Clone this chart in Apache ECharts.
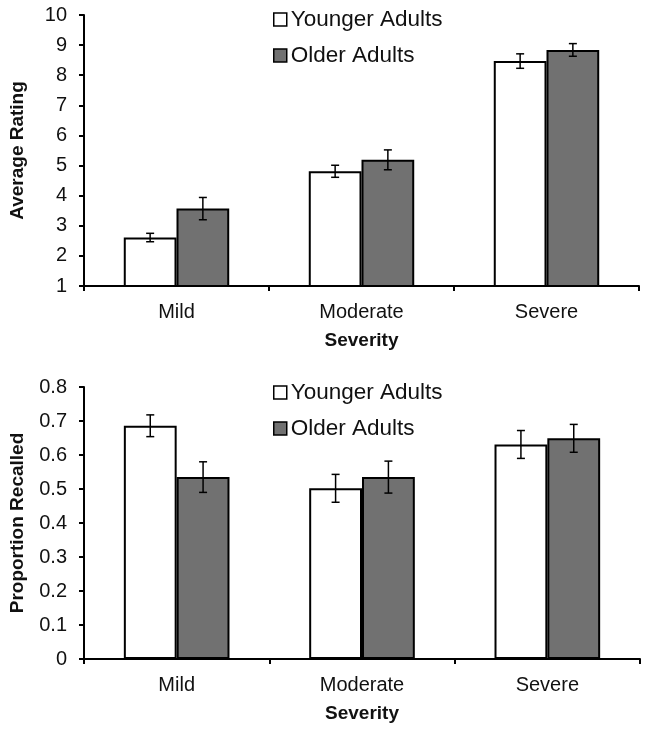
<!DOCTYPE html>
<html>
<head>
<meta charset="utf-8">
<script src="https://cdn.jsdelivr.net/npm/echarts@6/dist/echarts.min.js"></script>
<style>
html,body{margin:0;padding:0;background:#fff;}
#c{width:649px;height:731px;}
</style>
</head>
<body>
<div id="c"></div>
<script>
// ---- Data ----
const categories = ['Mild', 'Moderate', 'Severe'];
const seriesNames = ['Younger Adults', 'Older Adults'];

// Top panel: Average Rating
const ratingYounger = [2.61, 4.81, 8.47];
const ratingYoungerErr = [0.14, 0.20, 0.24];
const ratingOlder = [3.57, 5.19, 8.84];
const ratingOlderErr = [0.37, 0.33, 0.21];

// Bottom panel: Proportion Recalled
const recallYounger = [0.686, 0.502, 0.631];
const recallYoungerErr = [0.032, 0.041, 0.041];
const recallOlder = [0.535, 0.535, 0.649];
const recallOlderErr = [0.045, 0.047, 0.041];

// ---- Styling ----
const FONT = "'Liberation Sans', Arial, sans-serif";
const CAT_GAP = 0.43;
const colors = ['#ffffff', '#717171'];

const chart = echarts.init(document.getElementById('c'), null, {renderer: 'canvas'});

function errSeries(name, vals, errs, side, xi, yi) {
  return {
    type: 'custom',
    name: name + ' err',
    xAxisIndex: xi,
    yAxisIndex: yi,
    z: 10,
    silent: true,
    data: vals.map((v, i) => [i, v, errs[i]]),
    renderItem: function (params, api) {
      const cat = api.value(0), v = api.value(1), e = api.value(2);
      const band = api.size([1, 0])[0];
      const bw = band * (1 - CAT_GAP) / 2;
      const x = api.coord([cat, v])[0] + side * bw / 2;
      const yt = api.coord([cat, v + e])[1];
      const yb = api.coord([cat, v - e])[1];
      const hw = 4;
      const st = {stroke: '#000', lineWidth: 1.5};
      return {
        type: 'group',
        children: [
          {type: 'line', shape: {x1: x, y1: yt, x2: x, y2: yb}, style: st},
          {type: 'line', shape: {x1: x - hw, y1: yt, x2: x + hw, y2: yt}, style: st},
          {type: 'line', shape: {x1: x - hw, y1: yb, x2: x + hw, y2: yb}, style: st}
        ]
      };
    }
  };
}

function barSeries(name, vals, color, xi, yi) {
  return {
    type: 'bar',
    name: name,
    xAxisIndex: xi,
    yAxisIndex: yi,
    data: vals,
    barGap: '0%',
    barCategoryGap: (CAT_GAP * 100) + '%',
    itemStyle: {color: color, borderColor: '#000', borderWidth: 2},
    emphasis: {disabled: true}
  };
}

const axisLineStyle = {lineStyle: {color: '#000', width: 2}};
const tickStyle = {show: true, length: 5, lineStyle: {color: '#000', width: 2}};
const labelStyle = {color: '#111', fontSize: 20, fontFamily: FONT};
const nameStyle = {color: '#111', fontSize: 19, fontWeight: 'bold', fontFamily: FONT};

function xAxis(gi) {
  return {
    type: 'category',
    gridIndex: gi,
    data: categories,
    axisLine: axisLineStyle,
    axisTick: tickStyle,
    axisLabel: Object.assign({margin: 16}, labelStyle),
    name: 'Severity',
    nameLocation: 'middle',
    nameGap: 45,
    nameTextStyle: nameStyle,
    splitLine: {show: false}
  };
}

function legend(top) {
  return {
    data: seriesNames,
    orient: 'vertical',
    left: 268,
    top: top,
    itemWidth: 13,
    itemHeight: 13,
    itemGap: 13,
    icon: 'rect',
    selectedMode: false,
    itemStyle: {borderColor: '#000', borderWidth: 1.5},
    textStyle: {color: '#111', fontSize: 22.5, fontFamily: FONT, padding: [0, 0, 0, -1]}
  };
}

const option = {
  animation: false,
  backgroundColor: '#fff',
  legend: [legend(3), legend(376)],
  grid: [
    {left: 80, right: 10, top: 15, height: 271},
    {left: 81, right: 9, top: 387, height: 272}
  ],
  xAxis: [xAxis(0), xAxis(1)],
  yAxis: [
    {
      type: 'value', gridIndex: 0, min: 1, max: 10, interval: 1,
      axisLine: Object.assign({show: true}, axisLineStyle),
      axisTick: tickStyle,
      splitLine: {show: false},
      axisLabel: Object.assign({margin: 17}, labelStyle),
      name: 'Average Rating', nameLocation: 'middle', nameGap: 57,
      nameTextStyle: nameStyle
    },
    {
      type: 'value', gridIndex: 1, min: 0, max: 0.8, interval: 0.1,
      axisLine: Object.assign({show: true}, axisLineStyle),
      axisTick: tickStyle,
      splitLine: {show: false},
      axisLabel: Object.assign({margin: 17, formatter: v => String(Math.round(v * 10) / 10)}, labelStyle),
      name: 'Proportion Recalled', nameLocation: 'middle', nameGap: 57,
      nameTextStyle: nameStyle
    }
  ],
  series: [
    barSeries(seriesNames[0], ratingYounger, colors[0], 0, 0),
    barSeries(seriesNames[1], ratingOlder, colors[1], 0, 0),
    errSeries(seriesNames[0], ratingYounger, ratingYoungerErr, -1, 0, 0),
    errSeries(seriesNames[1], ratingOlder, ratingOlderErr, 1, 0, 0),
    barSeries(seriesNames[0], recallYounger, colors[0], 1, 1),
    barSeries(seriesNames[1], recallOlder, colors[1], 1, 1),
    errSeries(seriesNames[0], recallYounger, recallYoungerErr, -1, 1, 1),
    errSeries(seriesNames[1], recallOlder, recallOlderErr, 1, 1, 1)
  ]
};
chart.setOption(option);
</script>
</body>
</html>
